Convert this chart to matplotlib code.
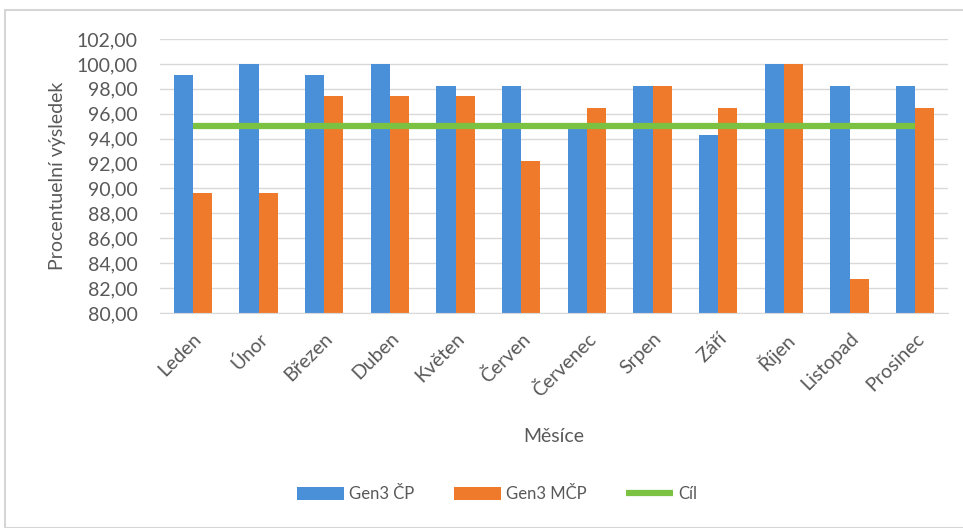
import numpy as np
import matplotlib.pyplot as plt
from matplotlib.patches import Rectangle
from matplotlib.ticker import FuncFormatter, MultipleLocator

plt.rcParams['font.family'] = ['Lato', 'DejaVu Sans']

mesice = ["Leden", "Únor", "Březen", "Duben", "Květen", "Červen",
          "Červenec", "Srpen", "Září", "Říjen", "Listopad", "Prosinec"]
gen3_cp = [99.1, 100.0, 99.1, 100.0, 98.25, 98.25,
           94.85, 98.25, 94.3, 100.0, 98.25, 98.25]
gen3_mcp = [89.66, 89.66, 97.4, 97.4, 97.4, 92.2,
            96.5, 98.25, 96.5, 100.0, 82.75, 96.5]
cil = [95.0] * 12

BLUE = "#4A90D9"
ORANGE = "#F07A2B"
GREEN = "#7CC242"
TXT = "#595959"

fig = plt.figure(figsize=(9.63, 5.28), dpi=100)
fig.patch.set_facecolor("white")
fig.patches.append(Rectangle((5 / 963, 0), 1.0, 1 - 10 / 528, transform=fig.transFigure,
                             fill=False, edgecolor="#D6D6D6", linewidth=1.5))

ax = fig.add_axes([160 / 963, 1 - 313 / 528, 788 / 963, 274 / 528])
x = np.arange(len(mesice))
w = 0.29
b1 = ax.bar(x - w / 2, gen3_cp, width=w, color=BLUE, label="Gen3 ČP", zorder=2)
b2 = ax.bar(x + w / 2, gen3_mcp, width=w, color=ORANGE, label="Gen3 MČP", zorder=2)
ln, = ax.plot(x, cil, color=GREEN, linewidth=4.5, label="Cíl", zorder=3,
              solid_capstyle="butt")

ax.set_xlim(-0.5, len(mesice) - 0.5)
ax.set_ylim(80, 102)
ax.yaxis.set_major_locator(MultipleLocator(2))
ax.yaxis.set_major_formatter(FuncFormatter(lambda v, p: f"{v:.2f}".replace(".", ",")))
ax.grid(axis="y", color="#D9D9D9", linewidth=1, zorder=0)
ax.set_axisbelow(True)
for s in ["top", "right", "left"]:
    ax.spines[s].set_visible(False)
ax.spines["bottom"].set_color("#D9D9D9")

ax.set_xticks(x)
ax.set_xticklabels(mesice, rotation=45, ha="right", rotation_mode="anchor")
ax.tick_params(axis="both", length=0, colors=TXT, labelsize=14)
ax.tick_params(axis="x", pad=12)
ax.tick_params(axis="y", pad=16)

ax.set_ylabel("Procentuelní výsledek", color=TXT, fontsize=14, labelpad=8)
ax.set_xlabel("Měsíce", color=TXT, fontsize=14, labelpad=20)

fig.legend(handles=[b1, b2, ln], loc="center", bbox_to_anchor=(497 / 963, 1 - 494 / 528),
           ncol=3, frameon=False, fontsize=12, labelcolor=TXT, handlelength=2.8,
           handleheight=0.8, columnspacing=2.4, handletextpad=0.3)

fig.savefig("out.png", dpi=100, facecolor="white")
